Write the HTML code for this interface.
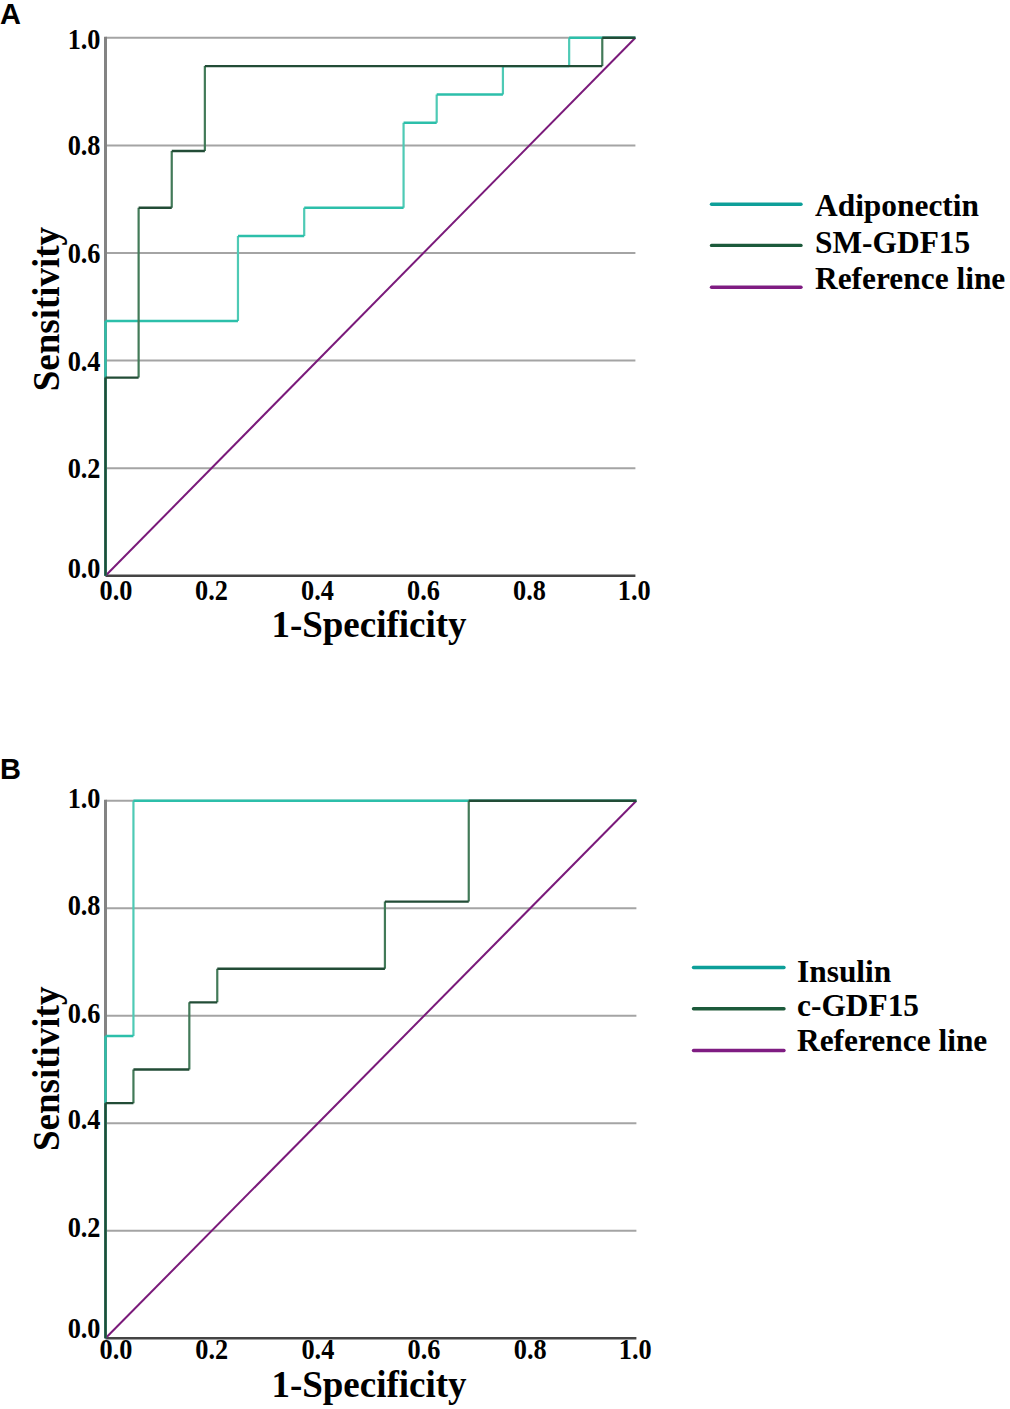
<!DOCTYPE html>
<html><head><meta charset="utf-8"><style>
html,body{margin:0;padding:0;background:#fff;}
body{width:1010px;height:1409px;overflow:hidden;}
svg{display:block;}
text{-webkit-font-smoothing:antialiased;}
.tk{font-family:"Liberation Serif",serif;font-weight:bold;font-size:26.3px;fill:#000;}
.tt{font-family:"Liberation Serif",serif;font-weight:bold;font-size:37px;fill:#000;}
.lg{font-family:"Liberation Serif",serif;font-weight:bold;font-size:31.4px;fill:#000;}
.pn{font-family:"Liberation Sans",sans-serif;font-weight:bold;font-size:29px;fill:#000;}
</style></head><body>
<svg width="1010" height="1409" viewBox="0 0 1010 1409">
<defs><filter id="bl" filterUnits="userSpaceOnUse" x="0" y="0" width="1010" height="1409"><feGaussianBlur stdDeviation="0.7"/></filter></defs>
<rect width="1010" height="1409" fill="#fff"/>
<line x1="105.5" y1="37.8" x2="635.4" y2="37.8" stroke="#a4a4a4" stroke-width="2"/>
<line x1="105.5" y1="145.4" x2="635.4" y2="145.4" stroke="#a4a4a4" stroke-width="2"/>
<line x1="105.5" y1="253" x2="635.4" y2="253" stroke="#a4a4a4" stroke-width="2"/>
<line x1="105.5" y1="360.6" x2="635.4" y2="360.6" stroke="#a4a4a4" stroke-width="2"/>
<line x1="105.5" y1="468.2" x2="635.4" y2="468.2" stroke="#a4a4a4" stroke-width="2"/>
<line x1="105.5" y1="36.8" x2="105.5" y2="575.8" stroke="#838383" stroke-width="3"/>
<line x1="105.5" y1="575.8" x2="635.4" y2="575.8" stroke="#444444" stroke-width="2.4"/>
<line x1="105.5" y1="575.8" x2="635.4" y2="37.8" stroke="#7a1a7a" stroke-width="2.0"/>
<path d="M237.97,320.96V236.01M304.21,236.01V207.69M403.57,207.69V122.75M436.69,122.75V94.43M502.92,94.43V66.12M569.16,66.12V37.8" fill="none" stroke="#4ecab5" stroke-width="2.2"/>
<path d="M105.5,575.8V320.96M105.5,320.96H237.97M237.97,236.01H304.21M304.21,207.69H403.57M403.57,122.75H436.69M436.69,94.43H502.92M502.92,66.12H569.16M569.16,37.8H635.4" fill="none" stroke="#2cbfaa" stroke-width="2.4"/>
<path d="M138.62,377.59V207.69M171.74,207.69V151.06M204.86,151.06V66.12M602.28,66.12V37.8" fill="none" stroke="#427a58" stroke-width="2.2"/>
<path d="M105.5,575.8V377.59M105.5,377.59H138.62M138.62,207.69H171.74M171.74,151.06H204.86M204.86,66.12H602.28M602.28,37.8H635.4" fill="none" stroke="#224c36" stroke-width="2.4"/>
<text transform="translate(100.5,578.4) scale(1,1.08)" class="tk" text-anchor="end">0.0</text>
<text transform="translate(116,599.6) scale(1,1.08)" class="tk" text-anchor="middle">0.0</text>
<text transform="translate(100.5,478) scale(1,1.08)" class="tk" text-anchor="end">0.2</text>
<text transform="translate(211.48,599.6) scale(1,1.08)" class="tk" text-anchor="middle">0.2</text>
<text transform="translate(100.5,370.6) scale(1,1.08)" class="tk" text-anchor="end">0.4</text>
<text transform="translate(317.46,599.6) scale(1,1.08)" class="tk" text-anchor="middle">0.4</text>
<text transform="translate(100.5,262.6) scale(1,1.08)" class="tk" text-anchor="end">0.6</text>
<text transform="translate(423.44,599.6) scale(1,1.08)" class="tk" text-anchor="middle">0.6</text>
<text transform="translate(100.5,155.2) scale(1,1.08)" class="tk" text-anchor="end">0.8</text>
<text transform="translate(529.42,599.6) scale(1,1.08)" class="tk" text-anchor="middle">0.8</text>
<text transform="translate(100.5,48.8) scale(1,1.08)" class="tk" text-anchor="end">1.0</text>
<text transform="translate(634.2,599.6) scale(1,1.08)" class="tk" text-anchor="middle">1.0</text>
<text x="369" y="637" class="tt" text-anchor="middle">1-Specificity</text>
<text transform="translate(58.5,309.1) rotate(-90)" class="tt" text-anchor="middle">Sensitivity</text>
<line x1="711.5" y1="204.3" x2="801" y2="204.3" stroke="#0e9f99" stroke-width="3.4" stroke-linecap="round" filter="url(#bl)"/>
<text x="815" y="215.6" class="lg">Adiponectin</text>
<line x1="711.5" y1="245.4" x2="801" y2="245.4" stroke="#1f5a3b" stroke-width="3.4" stroke-linecap="round" filter="url(#bl)"/>
<text x="815" y="253.4" class="lg">SM-GDF15</text>
<line x1="711.5" y1="287.2" x2="801" y2="287.2" stroke="#7f1e82" stroke-width="3.4" stroke-linecap="round" filter="url(#bl)"/>
<text x="815" y="288.6" class="lg">Reference line</text>
<text x="0" y="24" class="pn">A</text>
<line x1="105.5" y1="800.8" x2="636.4" y2="800.8" stroke="#a4a4a4" stroke-width="2"/>
<line x1="105.5" y1="908.3" x2="636.4" y2="908.3" stroke="#a4a4a4" stroke-width="2"/>
<line x1="105.5" y1="1015.8" x2="636.4" y2="1015.8" stroke="#a4a4a4" stroke-width="2"/>
<line x1="105.5" y1="1123.3" x2="636.4" y2="1123.3" stroke="#a4a4a4" stroke-width="2"/>
<line x1="105.5" y1="1230.8" x2="636.4" y2="1230.8" stroke="#a4a4a4" stroke-width="2"/>
<line x1="105.5" y1="799.8" x2="105.5" y2="1338.3" stroke="#838383" stroke-width="3"/>
<line x1="105.5" y1="1338.3" x2="636.4" y2="1338.3" stroke="#444444" stroke-width="2.4"/>
<line x1="105.5" y1="1338.3" x2="636.4" y2="800.8" stroke="#7a1a7a" stroke-width="2.0"/>
<path d="M133.44,1035.96V800.8" fill="none" stroke="#4ecab5" stroke-width="2.2"/>
<path d="M105.5,1338.3V1035.96M105.5,1035.96H133.44M133.44,800.8H636.4" fill="none" stroke="#2cbfaa" stroke-width="2.4"/>
<path d="M133.44,1103.14V1069.55M189.33,1069.55V1002.36M217.27,1002.36V968.77M384.92,968.77V901.58M468.75,901.58V800.8" fill="none" stroke="#427a58" stroke-width="2.2"/>
<path d="M105.5,1338.3V1103.14M105.5,1103.14H133.44M133.44,1069.55H189.33M189.33,1002.36H217.27M217.27,968.77H384.92M384.92,901.58H468.75M468.75,800.8H636.4" fill="none" stroke="#224c36" stroke-width="2.4"/>
<text transform="translate(100.5,1338.1) scale(1,1.08)" class="tk" text-anchor="end">0.0</text>
<text transform="translate(116,1358.9) scale(1,1.08)" class="tk" text-anchor="middle">0.0</text>
<text transform="translate(100.5,1236.6) scale(1,1.08)" class="tk" text-anchor="end">0.2</text>
<text transform="translate(211.68,1358.9) scale(1,1.08)" class="tk" text-anchor="middle">0.2</text>
<text transform="translate(100.5,1129.4) scale(1,1.08)" class="tk" text-anchor="end">0.4</text>
<text transform="translate(317.86,1358.9) scale(1,1.08)" class="tk" text-anchor="middle">0.4</text>
<text transform="translate(100.5,1022.6) scale(1,1.08)" class="tk" text-anchor="end">0.6</text>
<text transform="translate(424.04,1358.9) scale(1,1.08)" class="tk" text-anchor="middle">0.6</text>
<text transform="translate(100.5,914.6) scale(1,1.08)" class="tk" text-anchor="end">0.8</text>
<text transform="translate(530.22,1358.9) scale(1,1.08)" class="tk" text-anchor="middle">0.8</text>
<text transform="translate(100.5,807.9) scale(1,1.08)" class="tk" text-anchor="end">1.0</text>
<text transform="translate(635.2,1358.9) scale(1,1.08)" class="tk" text-anchor="middle">1.0</text>
<text x="369" y="1397" class="tt" text-anchor="middle">1-Specificity</text>
<text transform="translate(58.5,1068.8) rotate(-90)" class="tt" text-anchor="middle">Sensitivity</text>
<line x1="693.5" y1="967.5" x2="784" y2="967.5" stroke="#0e9f99" stroke-width="3.4" stroke-linecap="round" filter="url(#bl)"/>
<text x="797" y="981.6" class="lg">Insulin</text>
<line x1="693.5" y1="1008.75" x2="784" y2="1008.75" stroke="#1f5a3b" stroke-width="3.4" stroke-linecap="round" filter="url(#bl)"/>
<text x="797" y="1016.2" class="lg">c-GDF15</text>
<line x1="693.5" y1="1050.5" x2="784" y2="1050.5" stroke="#7f1e82" stroke-width="3.4" stroke-linecap="round" filter="url(#bl)"/>
<text x="797" y="1051.2" class="lg">Reference line</text>
<text x="0" y="778.7" class="pn">B</text>
</svg>
</body></html>
